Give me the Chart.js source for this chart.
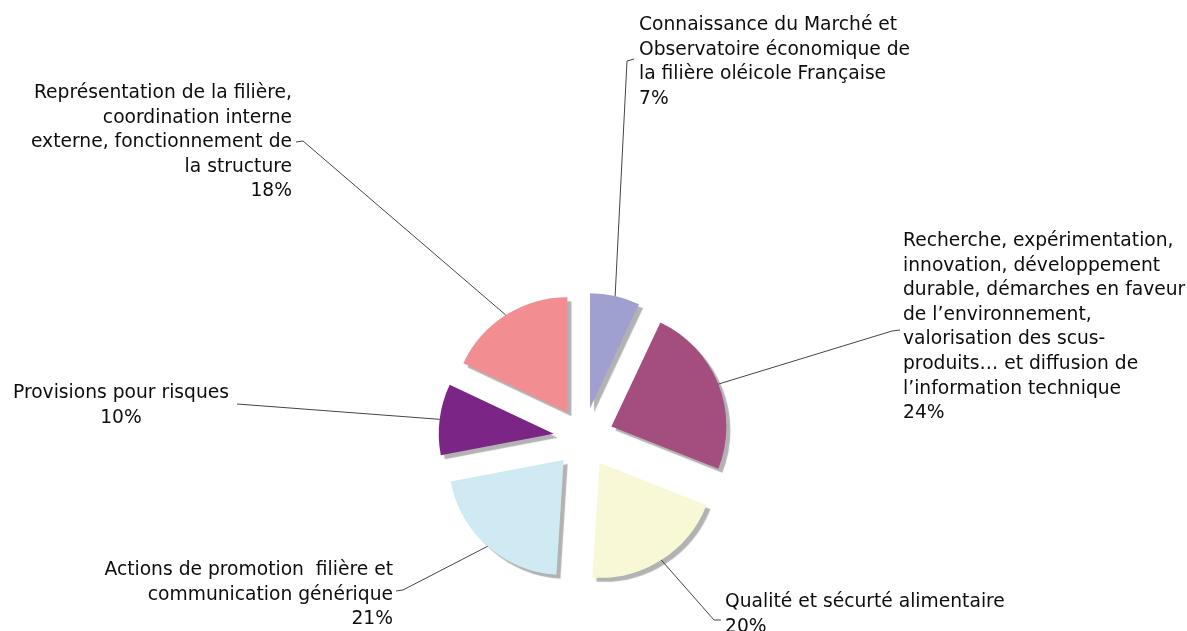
<!DOCTYPE html>
<html lang="fr">
<head>
  <meta charset="UTF-8" />
  <title>Répartition du budget</title>
  <script src="https://cdn.jsdelivr.net/npm/chart.js"></script>
  <style>
    html, body {
      margin: 0;
      padding: 0;
      background: #fff;
    }
    #wrap {
      width: 1187px;
      height: 631px;
      position: relative;
    }
  </style>
</head>
<body>

  <div id="wrap"><canvas id="budgetChart"></canvas></div>

  <script>
    // libellés (avec les retours à la ligne du graphique d'origine)
    const categories = [
      ['Connaissance du Marché et', 'Observatoire économique de', 'la filière oléicole Française'],
      ['Recherche, expérimentation,', 'innovation, développement', 'durable, démarches en faveur',
       'de l’environnement,', 'valorisation des scus-', 'produits… et diffusion de', 'l’information technique'],
      ['Qualité et sécurté alimentaire'],
      ['Actions de promotion  filière et', 'communication générique'],
      ['Provisions pour risques'],
      ['Représentation de la filière,', 'coordination interne', 'externe, fonctionnement de', 'la structure']
    ];
    const values = [7, 24, 20, 21, 10, 18];
    const colors = ['#a0a0d0', '#a44e80', '#f9f8d6', '#cfeaf2', '#7b2686', '#f28e91'];

    // placement des étiquettes : première ligne de base, alignement, coude et bout du trait
    const labelPos = [
      { x: 639, y: 30,  align: 'left',   elbow: [627, 61],  tip: [634, 59] },
      { x: 903, y: 246, align: 'left',   elbow: [892, 331], tip: [900, 330] },
      { x: 725, y: 607, align: 'left',   elbow: [714, 620], tip: [721, 620] },
      { x: 393, y: 575, align: 'right',  elbow: [403, 590], tip: [396, 591] },
      { x: 121, y: 398, align: 'center', elbow: [237, 404], tip: [237, 404] },
      { x: 292, y: 98,  align: 'right',  elbow: [303, 141], tip: [296, 142] }
    ];

    const explode = 30;     // écartement des parts (px)
    const pieRadius = 115;
    const lineHeight = 24.6;

    const explodedPie = {
      id: 'explodedPie',
      beforeDatasetDraw(chart, args) {
        const ctx = chart.ctx;
        ctx.save();
        ctx.shadowColor = 'rgba(0, 0, 0, 0.3)';
        ctx.shadowOffsetX = 4;
        ctx.shadowOffsetY = 4;
        ctx.shadowBlur = 1;
        args.meta.data.forEach(arc => {
          const mid = (arc.startAngle + arc.endAngle) / 2;
          ctx.save();
          ctx.translate(Math.cos(mid) * explode, Math.sin(mid) * explode);
          arc.draw(ctx);
          ctx.restore();
        });
        ctx.restore();
        return false;
      },
      afterDraw(chart) {
        const ctx = chart.ctx;
        const arcs = chart.getDatasetMeta(0).data;
        ctx.save();
        arcs.forEach((arc, i) => {
          const pos = labelPos[i];
          const mid = (arc.startAngle + arc.endAngle) / 2;
          const r = arc.outerRadius + explode;
          const px = arc.x + Math.cos(mid) * r;
          const py = arc.y + Math.sin(mid) * r;

          ctx.strokeStyle = '#444';
          ctx.lineWidth = 1;
          ctx.beginPath();
          ctx.moveTo(px, py);
          ctx.lineTo(pos.elbow[0], pos.elbow[1]);
          ctx.lineTo(pos.tip[0], pos.tip[1]);
          ctx.stroke();

          ctx.fillStyle = '#0d0d0d';
          ctx.font = '18.7px "DejaVu Sans"';
          ctx.textAlign = pos.align;
          ctx.textBaseline = 'alphabetic';
          const lines = categories[i].concat([values[i] + '%']);
          lines.forEach((txt, k) => {
            ctx.fillText(txt, pos.x, pos.y + k * lineHeight);
          });
        });
        ctx.restore();
      }
    };

    const ctx = document.getElementById('budgetChart').getContext('2d');

    new Chart(ctx, {
      type: 'pie',
      data: {
        labels: categories.map(c => c.join(' ')),
        datasets: [{
          data: values,
          backgroundColor: colors,
          borderWidth: 0,
          radius: pieRadius
        }]
      },
      options: {
        responsive: true,
        maintainAspectRatio: false,
        animation: false,
        radius: pieRadius,
        layout: {
          padding: { left: 0, right: 20, top: 244, bottom: 0 }
        },
        plugins: {
          legend: { display: false },
          tooltip: { enabled: false }
        }
      },
      plugins: [explodedPie]
    });
  </script>

</body>
</html>
